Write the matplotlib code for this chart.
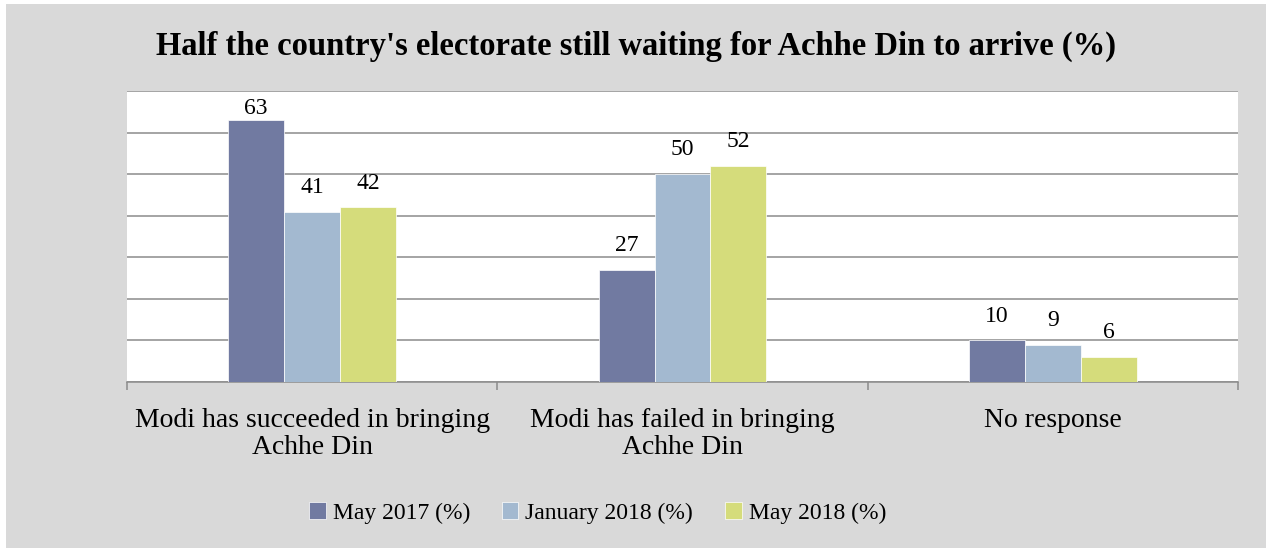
import matplotlib
matplotlib.use('Agg')
from matplotlib import pyplot as plt
from matplotlib.patches import Rectangle
import numpy as np

categories = ['Modi has succeeded in bringing\nAchhe Din',
              'Modi has failed in bringing\nAchhe Din',
              'No response']
series_names = ['May 2017 (%)', 'January 2018 (%)', 'May 2018 (%)']
may_2017 = [63, 27, 10]
jan_2018 = [41, 50, 9]
may_2018 = [42, 52, 6]

colors = ['#717aa1', '#a3b9d0', '#d5dc7b']
title = "Half the country's electorate still waiting for Achhe Din to arrive (%)"

plt.rcParams['font.family'] = ['Liberation Serif', 'DejaVu Serif']

fig = plt.figure(figsize=(12.66, 5.48), dpi=100)
fig.patch.set_facecolor('#d9d9d9')
# thin white strip along the top and left edges
fig.patches.append(Rectangle((0, 0), 6 / 1266, 1, transform=fig.transFigure,
                             facecolor='white', edgecolor='none', zorder=-1))
fig.patches.append(Rectangle((0, 1 - 4 / 548), 1, 4 / 548, transform=fig.transFigure,
                             facecolor='white', edgecolor='none', zorder=-1))

ax = fig.add_axes([127 / 1266, 1 - 382 / 548, (1238 - 127) / 1266, (382 - 91) / 548])
ax.set_facecolor('white')

x = np.arange(len(categories))
width = 0.151
all_series = [may_2017, jan_2018, may_2018]
for i, (vals, name, col) in enumerate(zip(all_series, series_names, colors)):
    bars = ax.bar(x + (i - 1) * width, vals, width, color=col, label=name,
                  edgecolor='white', linewidth=0.5, zorder=3)
    for rect, v in zip(bars, vals):
        pad = 1 if v == 63 else 10
        ax.annotate(str(v), (rect.get_x() + rect.get_width() / 2, v),
                    xytext=(0, pad), textcoords='offset points',
                    ha='center', va='bottom', fontsize=17, color='black')

ax.set_ylim(0, 70)
ax.set_xlim(-0.5, len(categories) - 0.5)
ax.set_yticks(np.arange(0, 71, 10))
ax.yaxis.grid(True, color='#8c8c8c', linewidth=1.1, zorder=0)
ax.set_axisbelow(True)
ax.tick_params(axis='y', left=False, labelleft=False)

ax.set_xticks(x)
ax.set_xticklabels(categories, fontsize=20, linespacing=1.1)
ax.tick_params(axis='x', which='major', length=0, pad=19)
ax.set_xticks(np.arange(-0.5, len(categories), 1), minor=True)
ax.tick_params(axis='x', which='minor', length=6, width=1.1, color='#8c8c8c')

for s in ['top', 'right', 'left']:
    ax.spines[s].set_visible(False)
ax.spines['bottom'].set_color('#8c8c8c')
ax.spines['bottom'].set_linewidth(1.1)

fig.text(0.502, 1 - 55 / 548, title, ha='center', va='baseline',
         fontsize=23.5, fontweight='bold')

fig.legend(loc='center', bbox_to_anchor=(0.472, 1 - 513 / 548), ncol=3,
           frameon=False, fontsize=17, handlelength=0.7, handleheight=0.7,
           handletextpad=0.3, columnspacing=1.35)

fig.savefig('out.png', dpi=100, facecolor=fig.get_facecolor())
